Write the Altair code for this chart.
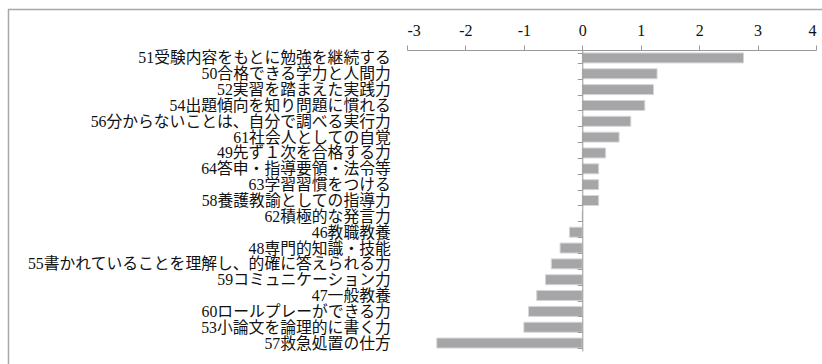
import altair as alt
import pandas as pd

labels = [
    "51受験内容をもとに勉強を継続する",
    "50合格できる学力と人間力",
    "52実習を踏まえた実践力",
    "54出題傾向を知り問題に慣れる",
    "56分からないことは、自分で調べる実行力",
    "61社会人としての自覚",
    "49先ず１次を合格する力",
    "64答申・指導要領・法令等",
    "63学習習慣をつける",
    "58養護教諭としての指導力",
    "62積極的な発言力",
    "46教職教養",
    "48専門的知識・技能",
    "55書かれていることを理解し、的確に答えられる力",
    "59コミュニケーション力",
    "47一般教養",
    "60ロールプレーができる力",
    "53小論文を論理的に書く力",
    "57救急処置の仕方",
]
values = [2.76, 1.28, 1.22, 1.07, 0.83, 0.63, 0.40, 0.28, 0.28, 0.28,
          0.0, -0.22, -0.38, -0.53, -0.63, -0.78, -0.92, -1.00, -2.49]
x_ticks = [-3, -2, -1, 0, 1, 2, 3, 4]

df = pd.DataFrame({"label": labels, "value": values})

W, H = 409, 301
XMIN, XMAX = -3, 4
zero_px = (0 - XMIN) / (XMAX - XMIN) * W

FONT = "'Liberation Serif', 'DejaVu Serif', 'Noto Sans CJK JP', serif"
AX = "#9a9a9a"

bars = alt.Chart(df).mark_bar(color="#a6a6a9", stroke="#d6d6d8", strokeWidth=1).encode(
    x=alt.X(
        "value:Q",
        scale=alt.Scale(domain=[XMIN, XMAX], nice=False, zero=False),
        axis=alt.Axis(
            orient="top", values=x_ticks, labelExpr="'' + datum.value",
            title=None, grid=False, domainColor=AX, tickColor=AX, tickSize=5,
            labelPadding=7, labelFont=FONT, labelFontSize=16, labelColor="#111",
            zindex=1,
        ),
    ),
    y=alt.Y(
        "label:N",
        sort=labels,
        scale=alt.Scale(paddingInner=0.37, paddingOuter=0.185),
        axis=alt.Axis(
            orient="left", offset=-zero_px, title=None, domainColor=AX,
            tickColor=AX, tickSize=5, tickBand="extent", labelPadding=187,
            labelFont=FONT, labelFontSize=15.8, labelColor="#111",
            labelLimit=800, zindex=1,
        ),
    ),
)

frame_df = pd.DataFrame({"k": [0]})
left_line = alt.Chart(frame_df).mark_rule(color="#a8a8a8", strokeWidth=1.5).encode(
    x=alt.value(-398.5), y=alt.value(-41), y2=alt.value(320)
)
top_line = alt.Chart(frame_df).mark_rule(color="#a8a8a8", strokeWidth=1.5).encode(
    y=alt.value(-40.5), x=alt.value(-399), x2=alt.value(420)
)

chart = alt.layer(left_line, top_line, bars).properties(
    width=W, height=H,
    padding={"left": 407, "top": 50, "right": 6, "bottom": 13},
    autosize=alt.AutoSizeParams(type="none"),
).configure_view(strokeWidth=0)

chart.save("out.html", embed_options={"renderer": "svg", "actions": False})
